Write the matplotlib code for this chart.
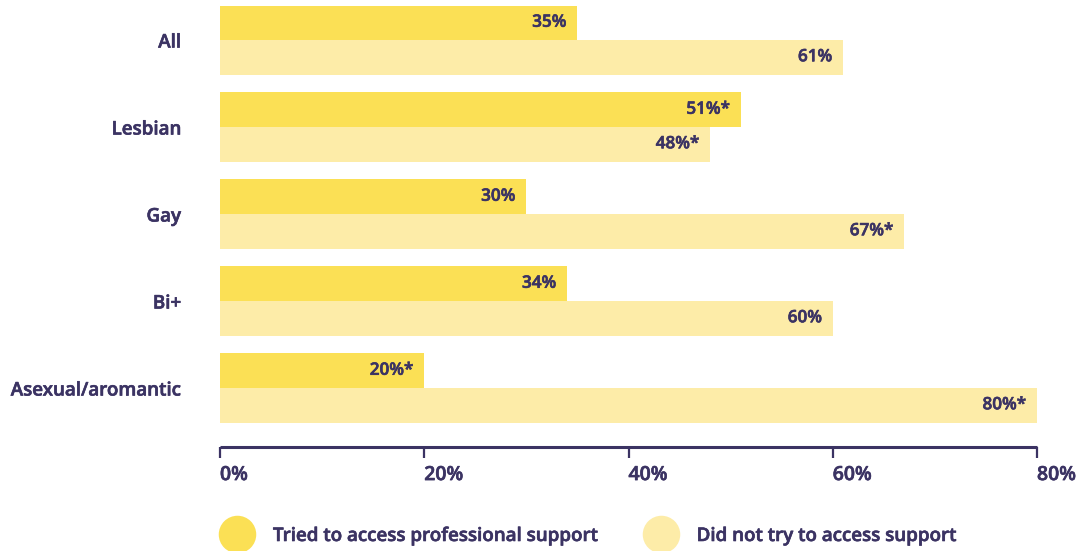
import matplotlib
matplotlib.use("Agg")
import matplotlib.pyplot as plt
import matplotlib.patheffects as pe
from matplotlib.lines import Line2D
import numpy as np

categories = ["All", "Lesbian", "Gay", "Bi+", "Asexual/aromantic"]
tried = [35, 51, 30, 34, 20]
not_tried = [61, 48, 67, 60, 80]
tried_labels = ["35%", "51%*", "30%", "34%", "20%*"]
not_tried_labels = ["61%", "48%*", "67%*", "60%", "80%*"]
ticks = [0, 20, 40, 60, 80]
series_names = ["Tried to access professional support", "Did not try to access support"]

DARK = "#fbe055"
LIGHT = "#fdeca8"
INK = "#3b3363"

plt.rcParams["font.family"] = ["Open Sans", "DejaVu Sans"]
plt.rcParams["font.stretch"] = "normal"

# semibold face with a hairline stroke for a slightly heavier look
heavy = [pe.withStroke(linewidth=0.45, foreground=INK)]

fig = plt.figure(figsize=(10.79, 5.51), dpi=100)
ax = fig.add_axes([220 / 1079, 1 - 447 / 551, 817 / 1079, 441 / 551])

y = np.arange(len(categories))
h = 0.397
ax.barh(y - h / 2, tried, height=h, color=DARK, linewidth=0)
ax.barh(y + h / 2, not_tried, height=h, color=LIGHT, linewidth=0)

for i in range(len(categories)):
    t1 = ax.text(tried[i] - 1.05, y[i] - h / 2, tried_labels[i], ha="right", va="center",
                 fontsize=12.3, fontweight="semibold", color=INK)
    t2 = ax.text(not_tried[i] - 1.05, y[i] + h / 2, not_tried_labels[i], ha="right", va="center",
                 fontsize=12.3, fontweight="semibold", color=INK)
    t1.set_path_effects(heavy)
    t2.set_path_effects(heavy)

ax.set_xlim(0, 80)
ax.set_ylim(4.678, -0.391)

ax.set_yticks(y)
ax.set_yticklabels(categories, fontsize=13.5, fontweight="semibold", color=INK)
ax.tick_params(axis="y", length=0, pad=28)

ax.set_xticks(ticks)
ax.set_xticklabels([f"{t}%" for t in ticks], fontsize=14, fontweight="semibold", color=INK,
                   ha="left")
ax.tick_params(axis="x", length=8, width=1.6, color=INK, pad=5, direction="out")
for t in ax.get_xticklabels() + ax.get_yticklabels():
    t.set_path_effects(heavy)

for s in ["top", "right", "left"]:
    ax.spines[s].set_visible(False)
ax.spines["bottom"].set_color(INK)
ax.spines["bottom"].set_linewidth(2.2)
ax.spines["bottom"].set_capstyle("butt")

handles = [Line2D([], [], marker="o", linestyle="none", markersize=27,
                  markerfacecolor=DARK, markeredgewidth=0),
           Line2D([], [], marker="o", linestyle="none", markersize=27,
                  markerfacecolor=LIGHT, markeredgewidth=0)]
leg = fig.legend(handles, series_names, loc="center left",
                 bbox_to_anchor=(227.6 / 1079, 1 - 536 / 551), ncol=2, frameon=False,
                 handlelength=1.0, handletextpad=1.42, columnspacing=2.9,
                 borderaxespad=0, borderpad=0,
                 prop={"family": ["Open Sans", "DejaVu Sans"], "size": 13.5,
                       "weight": "semibold", "stretch": "normal"})
for t in leg.get_texts():
    t.set_color(INK)
    t.set_path_effects(heavy)

fig.savefig("out.png", dpi=100)
